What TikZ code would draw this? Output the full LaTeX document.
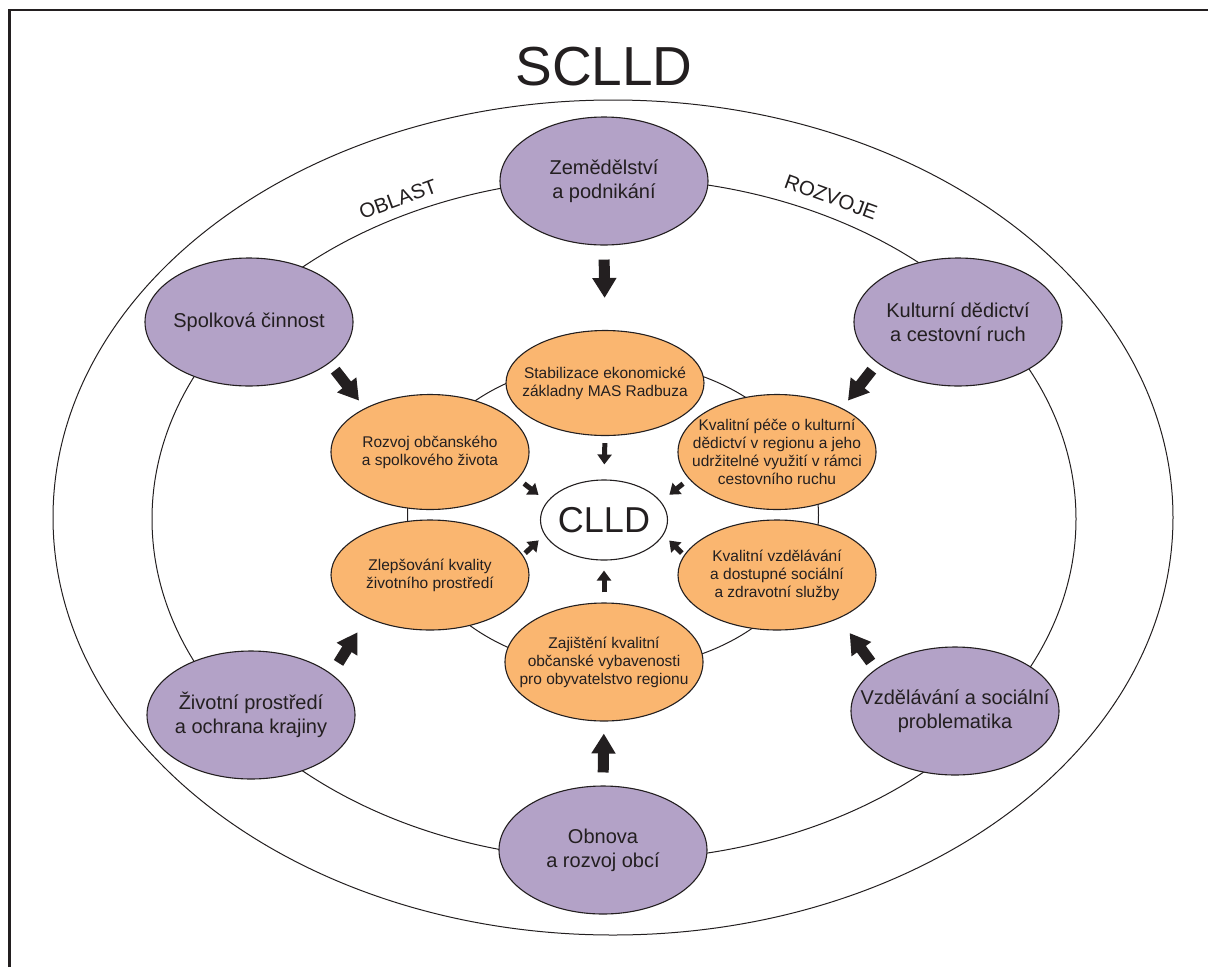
\documentclass[tikz,border=0pt]{standalone}
\usepackage{fontspec}
\setmainfont{Liberation Sans}
\usetikzlibrary{arrows.meta,shapes.geometric}
\definecolor{area_purple}{RGB}{179,162,199}
\definecolor{goal_orange}{RGB}{250,182,112}
\definecolor{ink}{RGB}{35,31,32}

\begin{document}
\begin{tikzpicture}[x=1pt,y=-1pt]
	\tikzstyle{area_node} = [ellipse, draw=ink, line width=1.1pt, fill=area_purple, text=ink, align=center, inner xsep=-30pt, inner ysep=0pt, minimum width=208pt, minimum height=128pt, font=\fontsize{20}{24}\selectfont]
	\tikzstyle{goal_node} = [ellipse, draw=ink, line width=1.1pt, fill=goal_orange, text=ink, align=center, inner xsep=-30pt, inner ysep=0pt, minimum width=198pt, minimum height=115pt, font=\fontsize{15.5}{18}\selectfont]
	\tikzstyle{clld_node} = [ellipse, draw=ink, line width=1.1pt, fill=white, text=ink, inner xsep=-10pt, inner ysep=0pt, minimum width=127pt, minimum height=80pt, font=\fontsize{36}{36}\selectfont]
	\tikzstyle{big_arrow} = [-{Triangle[length=20pt,width=23pt]}, line width=11pt, draw=ink]
	\tikzstyle{small_arrow} = [-{Triangle[length=10pt,width=14pt]}, line width=5pt, draw=ink]
	\tikzstyle{ring} = [line width=1pt, draw=ink]

	\useasboundingbox (0,0) rectangle (1208,967);
	% Frame
	\draw[line width=2.8pt, draw=ink] (9.5,967) -- (9.5,10) -- (1208,10);

	% Title
	\node (title) [text=ink, font=\fontsize{55}{55}\selectfont] at (604,67) {SCLLD};

	% Rings
	\draw[ring] (613,517.5) ellipse [x radius=560, y radius=417.5];
	\draw[ring] (614,519) ellipse [x radius=462, y radius=341];
	\draw[ring] (613,515) ellipse [x radius=205.5, y radius=154];
	\node (oblast) [rotate=20, text=ink, font=\fontsize{20.5}{20.5}\selectfont] at (398,199) {OBLAST};
	\node (rozvoje) [rotate=-20, text=ink, font=\fontsize{20.5}{20.5}\selectfont] at (831,197) {ROZVOJE};

	% Development areas
	\node (zem) [area_node] at (604,181) {Zemědělství\\a podnikání};
	\node (spolk) [area_node] at (249,322) {Spolková činnost};
	\node (kult) [area_node] at (958,322) {Kulturní dědictví\\a cestovní ruch};
	\node (ziv) [area_node] at (251,715) {Životní prostředí\\a ochrana krajiny};
	\node (vzd) [area_node] at (955,711) {Vzdělávání a sociální\\problematika};
	\node (obn) [area_node] at (603,850) {Obnova\\a rozvoj obcí};

	% Goals
	\node (stab) [goal_node, minimum height=105pt] at (605,383) {Stabilizace ekonomické\\základny MAS Radbuza};
	\node (rozv) [goal_node] at (430,452) {Rozvoj občanského\\a spolkového života};
	\node (kvpece) [goal_node] at (777,452) {Kvalitní péče o kulturní\\dědictví v regionu a jeho\\udržitelné využití v rámci\\cestovního ruchu};
	\node (zlep) [goal_node, minimum height=110pt] at (430,575) {Zlepšování kvality\\životního prostředí};
	\node (kvvzd) [goal_node, minimum height=110pt] at (777,575) {Kvalitní vzdělávání\\a dostupné sociální\\a zdravotní služby};
	\node (zaj) [goal_node, minimum height=118pt] at (604,662) {Zajištění kvalitní\\občanské vybavenosti\\pro obyvatelstvo regionu};

	% Centre
	\node (clld) [clld_node] at (604,520) {CLLD};

	% Arrows from areas to goals
	\draw[big_arrow, shorten <=14pt, shorten >=32pt] (zem.south) -- (stab.north);
	\draw[big_arrow, shorten <=9pt, shorten >=9.5pt] (spolk.-27) -- (rozv.146);
	\draw[big_arrow, shorten <=9pt, shorten >=9.5pt] (kult.207) -- (kvpece.34);
	\draw[big_arrow, shorten <=13pt, shorten >=17pt] (ziv.27) -- (zlep.214);
	\draw[big_arrow, shorten <=8.5pt, shorten >=18pt] (vzd.152) -- (kvvzd.325);
	\draw[big_arrow, shorten <=13pt, shorten >=12pt] (obn.north) -- (zaj.south);

	% Arrows from goals to CLLD
	\draw[small_arrow, shorten <=7pt, shorten >=15pt] (stab.south) -- (clld.north);
	\foreach \src/\a/\b in {rozv/-17/162, kvpece/197/18}
	\draw[small_arrow, shorten <=7.5pt, shorten >=10.8pt] (\src.\a) -- (clld.\b);
	\foreach \src/\a/\b in {zlep/12/194, kvvzd/168/346}
	\draw[small_arrow, shorten <=3pt, shorten >=8pt] (\src.\a) -- (clld.\b);
	\draw[small_arrow, shorten <=10pt, shorten >=10pt] (zaj.north) -- (clld.south);
\end{tikzpicture}
\end{document}
